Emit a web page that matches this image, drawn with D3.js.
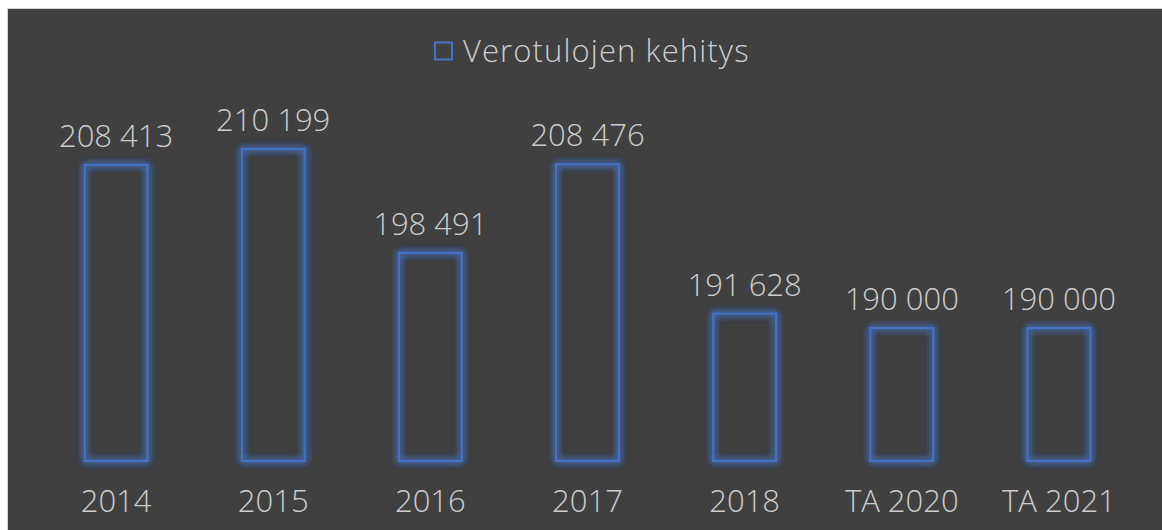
<!DOCTYPE html>
<html>
<head>
<meta charset="utf-8">
<script src="https://cdn.jsdelivr.net/npm/d3@7"></script>
<style>
  html, body { margin: 0; padding: 0; background: #ffffff; }
  svg { display: block; }
  .lbl { font-family: "Open Sans", sans-serif; font-weight: 300; fill: #cccccc; }
</style>
</head>
<body>
<div class="chart"></div>
<script>
// data
var years = ["2014", "2015", "2016", "2017", "2018", "TA 2020", "TA 2021"];
var taxIncome = [208413, 210199, 198491, 208476, 191628, 190000, 190000];
var seriesName = "Verotulojen kehitys";

var svgWidth = 1162;
var svgHeight = 530;

var svg = d3.select(".chart")
  .append("svg")
  .attr("width", svgWidth)
  .attr("height", svgHeight);

// glow for the bar outlines
var defs = svg.append("defs");
var glow = defs.append("filter")
  .attr("id", "glow")
  .attr("x", "-30%").attr("y", "-30%")
  .attr("width", "160%").attr("height", "160%");
glow.append("feGaussianBlur")
  .attr("in", "SourceGraphic")
  .attr("stdDeviation", 3.5)
  .attr("result", "blur");
var merge = glow.append("feMerge");
merge.append("feMergeNode").attr("in", "blur");
merge.append("feMergeNode").attr("in", "blur");
merge.append("feMergeNode").attr("in", "blur");
merge.append("feMergeNode").attr("in", "SourceGraphic");

// chart area
svg.append("rect")
  .attr("x", 7.5)
  .attr("y", 8.5)
  .attr("width", svgWidth)
  .attr("height", svgHeight)
  .attr("fill", "#404040")
  .attr("stroke", "#d4d4d4")
  .attr("stroke-width", 1);

var xScale = d3.scaleBand()
  .domain(years)
  .range([37.5, 1137.5])
  .paddingInner(0.6)
  .paddingOuter(0.3);

var yScale = d3.scaleLinear()
  .domain([175000, 215000])
  .range([461, 106.5]);

var data = years.map(function(y, i) { return { year: y, value: taxIncome[i] }; });

var chartGroup = svg.append("g");

// bars
chartGroup.selectAll(".bar")
  .data(data)
  .enter()
  .append("rect")
  .attr("class", "bar")
  .attr("x", d => xScale(d.year))
  .attr("y", d => yScale(d.value))
  .attr("width", xScale.bandwidth())
  .attr("height", d => yScale.range()[0] - yScale(d.value))
  .attr("fill", "none")
  .attr("stroke", "#4472c4")
  .attr("stroke-width", 2)
  .attr("filter", "url(#glow)");

// value labels
var fmt = function(v) { return d3.format(",")(v).replace(/,/g, " "); };
chartGroup.selectAll(".val")
  .data(data)
  .enter()
  .append("text")
  .attr("class", "lbl val")
  .attr("x", d => xScale(d.year) + xScale.bandwidth() / 2)
  .attr("y", d => yScale(d.value) - 18)
  .attr("text-anchor", "middle")
  .style("font-size", "31px")
  .text(d => fmt(d.value));

// category axis
var bottomAxis = d3.axisBottom(xScale).tickSize(0).tickPadding(0);
var axisG = chartGroup.append("g")
  .attr("transform", "translate(0, 490)")
  .call(bottomAxis);
axisG.select(".domain").remove();
axisG.selectAll("text")
  .attr("class", "lbl")
  .attr("dy", "0.71em")
  .attr("y", 0)
  .style("font-size", "31px")
  .style("font-family", "'Open Sans', sans-serif")
  .style("font-weight", 300)
  .attr("fill", "#cccccc");

// legend
var legend = svg.append("g");
legend.append("rect")
  .attr("x", 435)
  .attr("y", 42.5)
  .attr("width", 17)
  .attr("height", 17)
  .attr("fill", "none")
  .attr("stroke", "#4472c4")
  .attr("stroke-width", 2);
legend.append("text")
  .attr("class", "lbl")
  .attr("x", 463)
  .attr("y", 61.5)
  .style("font-size", "31px")
  .style("letter-spacing", "1.1px")
  .text(seriesName);
</script>
</body>
</html>
